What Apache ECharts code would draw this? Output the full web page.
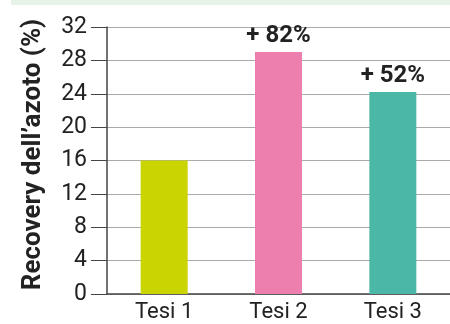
<!DOCTYPE html>
<html>
<head>
<meta charset="utf-8">
<script src="https://cdn.jsdelivr.net/npm/echarts@6/dist/echarts.min.js"></script>
<style>
  html, body { margin: 0; padding: 0; background: #fff; }
  #chart { width: 450px; height: 324px; }
</style>
</head>
<body>
<div id="chart"></div>
<script>
// dati
const categories = ['Tesi 1', 'Tesi 2', 'Tesi 3']
const recovery = [16, 29, 24.2]
const barLabels = ['', '+ 82%', '+ 52%']
const barColors = ['#c9d400', '#ec7fae', '#4bb8a7']
const yTicks = [0, 4, 8, 12, 16, 20, 24, 28, 32]

const FONT = 'Roboto'
const chart = echarts.init(document.getElementById('chart'))

const option = {
  animation: false,
  textStyle: { fontFamily: FONT },
  graphic: [{
    type: 'rect',
    shape: { x: 11, y: 0, width: 439, height: 5 },
    style: { fill: '#e7f2e9' },
    silent: true
  }],
  grid: { left: 107, top: 27, bottom: 30, width: 347 },
  xAxis: {
    type: 'category',
    data: categories,
    axisLine: { lineStyle: { color: '#444', width: 1.5 } },
    axisTick: { length: 16, lineStyle: { color: '#444', width: 1.2 } },
    axisLabel: { color: '#222', fontSize: 22, margin: 7, fontFamily: FONT }
  },
  yAxis: {
    type: 'value',
    min: yTicks[0],
    max: yTicks[yTicks.length - 1],
    interval: 4,
    name: 'Recovery dell\u2019azoto (%)',
    nameLocation: 'middle',
    nameRotate: 90,
    nameGap: 61,
    nameTextStyle: { color: '#222', fontSize: 26, fontWeight: 'bold', fontFamily: FONT, padding: [0, 0, 0, 12] },
    axisLine: { show: true, lineStyle: { color: '#444', width: 1.5 } },
    axisTick: { show: true, length: 16, lineStyle: { color: '#444', width: 1 } },
    axisLabel: { color: '#222', fontSize: 23, margin: 20, fontFamily: FONT },
    splitLine: { lineStyle: { color: '#aaa', width: 1 } }
  },
  series: [{
    type: 'bar',
    barWidth: 47,
    data: recovery.map((v, i) => ({
      value: v,
      itemStyle: { color: barColors[i] },
      label: {
        show: barLabels[i] !== '',
        position: 'top',
        distance: 4,
        formatter: barLabels[i],
        color: '#222',
        fontSize: 24,
        fontWeight: 'bold',
        fontFamily: FONT
      }
    }))
  }]
}

chart.setOption(option)
</script>
</body>
</html>
